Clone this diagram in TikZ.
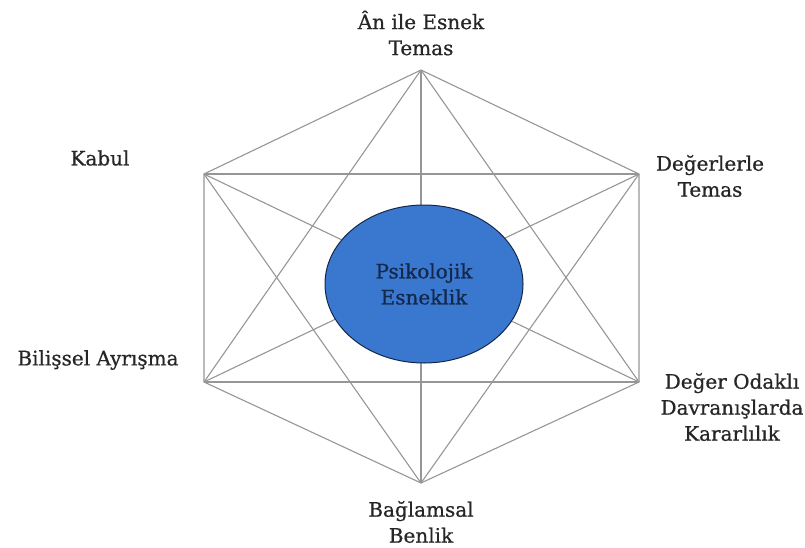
\documentclass[tikz,border=0pt]{standalone}
\usepackage{fontspec}
\setmainfont{DejaVu Serif}
\newfontfamily\lblfont[FakeBold=0.7]{DejaVu Serif}
\usetikzlibrary{shapes.geometric}
\definecolor{linegray}{RGB}{150,150,150}
\definecolor{ellblue}{RGB}{58,120,208}
\definecolor{elldark}{RGB}{20,40,75}
\begin{document}
\begin{tikzpicture}[x=1pt,y=-1pt]
            \tikzset{lbl/.style={align=center,font=\lblfont\fontsize{20}{26}\selectfont,inner sep=0pt,text=black!85}}
            \useasboundingbox (0,0) rectangle (805,547);
            % corners of the hexagon
            \coordinate (t) at (421,70);
            \coordinate (ur) at (639,174);
            \coordinate (lr) at (639,382);
            \coordinate (b) at (421,483);
            \coordinate (ll) at (204,382);
            \coordinate (ul) at (204,174);
            % every pair joined
            \draw [linegray, line width=1.1pt] (t) -- (ur) -- (lr) -- (b) -- (ll) -- (ul) -- cycle;
            \draw [linegray, line width=1.1pt] (t) -- (b);
            \draw [linegray, line width=1.1pt] (ul) -- (lr);
            \draw [linegray, line width=1.1pt] (ur) -- (ll);
            \draw [linegray, line width=1.1pt] (t) -- (lr);
            \draw [linegray, line width=1.1pt] (t) -- (ll);
            \draw [linegray, line width=1.1pt] (ul) -- (ur);
            \draw [linegray, line width=1.1pt] (ll) -- (lr);
            \draw [linegray, line width=1.1pt] (ul) -- (b);
            \draw [linegray, line width=1.1pt] (ur) -- (b);
            % centre
            \node [ellipse, draw=elldark, line width=1pt, fill=ellblue, minimum width=198pt, minimum height=158pt, inner sep=0pt, text=elldark, align=center, font=\lblfont\fontsize{20}{26}\selectfont] (pe) at (424,284) {Psikolojik\\Esneklik};
            % labels
            \node [lbl] (an) at (421,33) {Ân ile Esnek\\Temas};
            \node [lbl] (kabul) at (100,158) {Kabul};
            \node [lbl] (deger) at (710,176) {Değerlerle\\Temas};
            \node [lbl] (bilis) at (98,360) {Bilişsel Ayrışma};
            \node [lbl] (odak) at (732,407) {Değer Odaklı\\Davranışlarda\\Kararlılık};
            \node [lbl] (bag) at (421,522) {Bağlamsal\\Benlik};
        \end{tikzpicture}
\end{document}
